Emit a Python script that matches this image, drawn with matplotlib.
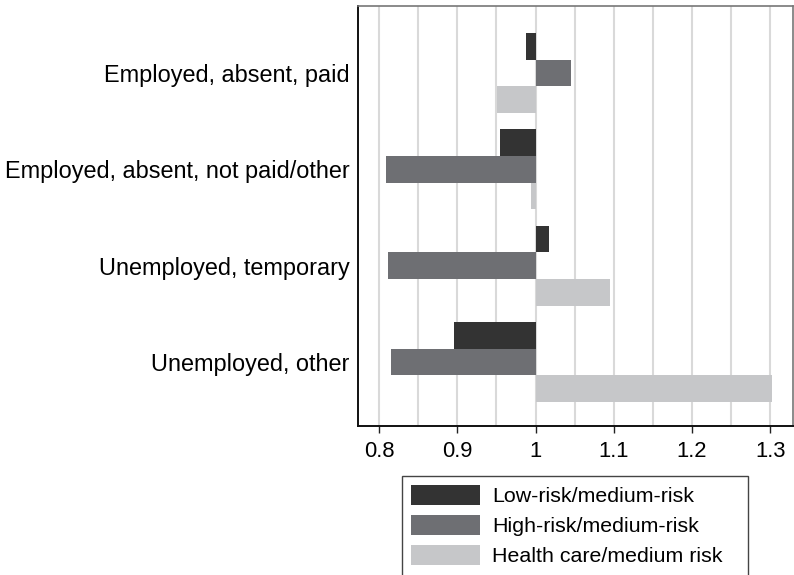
import matplotlib
matplotlib.use("Agg")
import matplotlib.pyplot as plt
from matplotlib.patches import Patch, Rectangle
import numpy as np

plt.rcParams['font.family'] = ['Liberation Sans', 'DejaVu Sans']

categories = ["Employed, absent, paid",
              "Employed, absent, not paid/other",
              "Unemployed, temporary",
              "Unemployed, other"]
series_names = ["Low-risk/medium-risk",
                "High-risk/medium-risk",
                "Health care/medium risk"]
low_risk = [0.988, 0.955, 1.0175, 0.896]
high_risk = [1.0456, 0.809, 0.8115, 0.815]
health_care = [0.951, 0.9945, 1.0955, 1.3017]
xtick_values = [0.8, 0.9, 1.0, 1.1, 1.2, 1.3]
xtick_labels = ["0.8", "0.9", "1", "1.1", "1.2", "1.3"]

colors = ["#333333", "#6e6f73", "#c6c7c9"]
base = 1.0

W, H = 794, 575
fig = plt.figure(figsize=(7.94, 5.75), dpi=100)
ax = fig.add_axes([358/W, 1-426/H, (793-358)/W, (426-6)/H])

y = np.arange(len(categories))
h = 0.277
for vals, off, c in zip([low_risk, high_risk, health_care], [-h, 0, h], colors):
    vals = np.array(vals)
    ax.barh(y + off, vals - base, left=base, height=h, color=c, edgecolor='none', zorder=3)

# grid
for gx in np.arange(0.8, 1.3001, 0.05):
    ax.axvline(gx, color='#d9d9d9', lw=1.5, zorder=1)

ax.set_xlim(0.773, 1.329)
ax.set_ylim(3.665, -0.696)
ax.set_xticks(xtick_values)
ax.set_xticklabels(xtick_labels, fontsize=15.8)
ax.set_yticks(y)
ax.set_yticklabels(categories, fontsize=16.9)
ax.tick_params(axis='y', length=0, pad=6)
ax.tick_params(axis='x', length=5, width=1, pad=6, color='#222222')

for s in ['left', 'bottom']:
    ax.spines[s].set_color('#111111')
    ax.spines[s].set_linewidth(1.4)
for s in ['top', 'right']:
    ax.spines[s].set_color('#777777')
    ax.spines[s].set_linewidth(1.2)

# legend frame (wider than its content, clipped at the figure bottom)
fig.patches.append(Rectangle((402/W, -0.05), (748-402)/W, (1-476/H) + 0.05,
                             transform=fig.transFigure, facecolor='white',
                             edgecolor='#444444', linewidth=1.0, zorder=0))

handles = [Patch(facecolor=c, edgecolor='none') for c in colors]
leg = fig.legend(handles, series_names, loc='upper left',
                 bbox_to_anchor=(402/W, 1-476/H), bbox_transform=fig.transFigure,
                 borderaxespad=0, fontsize=15.4, frameon=False,
                 handlelength=3.22, handleheight=1.03, labelspacing=0.42,
                 handletextpad=0.56, borderpad=0.42)

fig.savefig("out.png", dpi=100)
